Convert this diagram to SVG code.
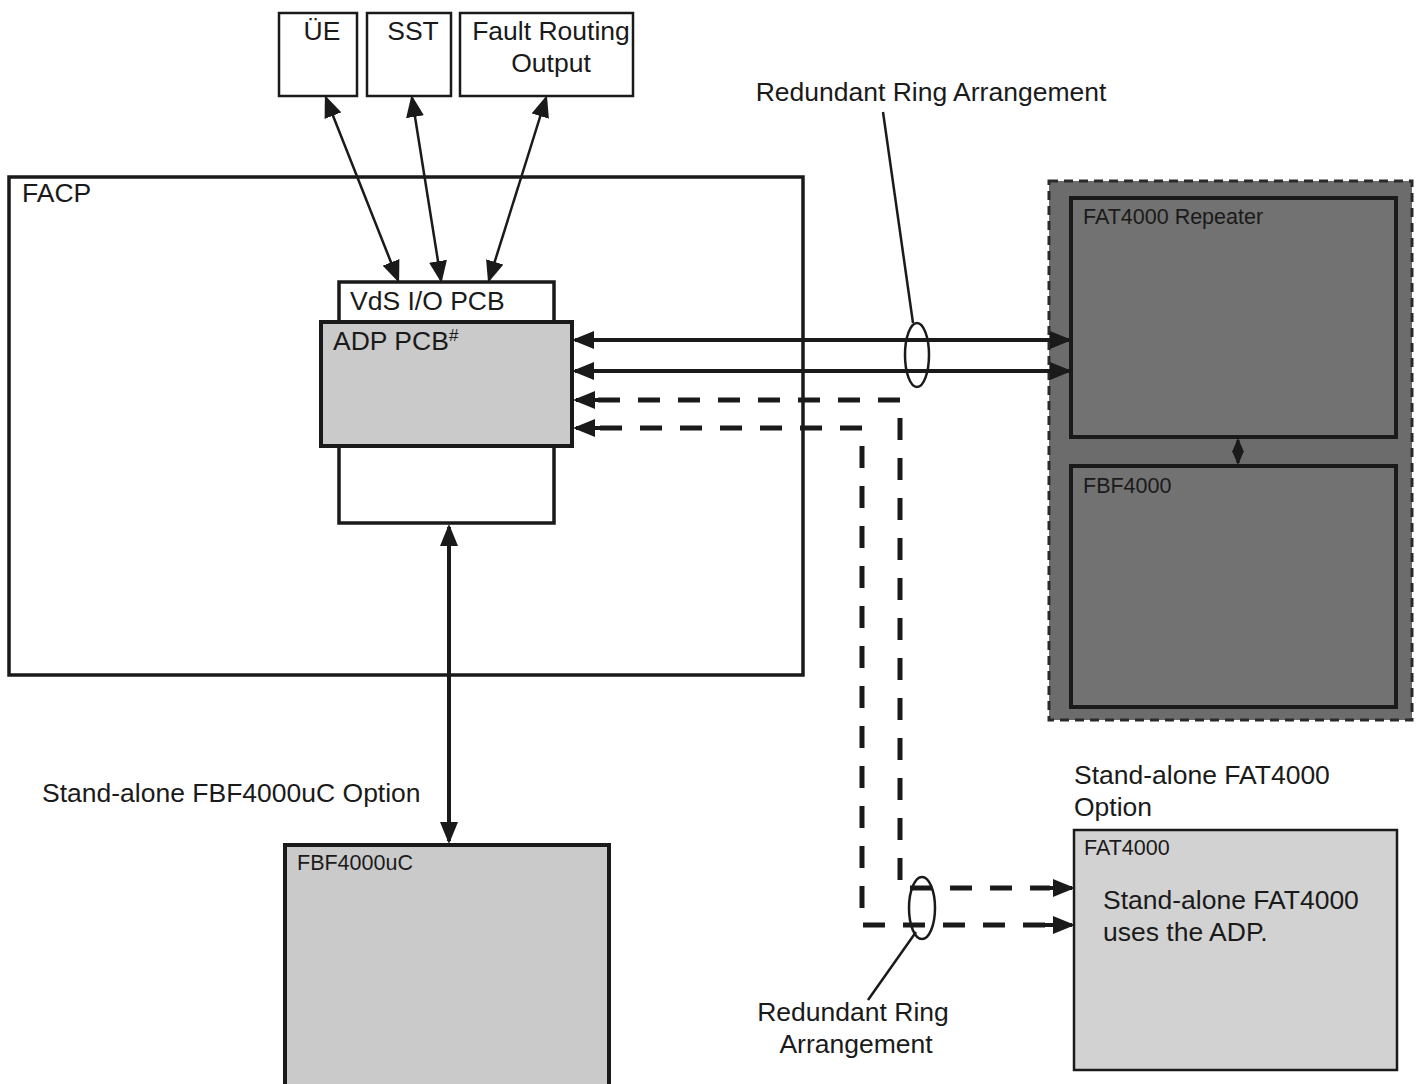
<svg xmlns="http://www.w3.org/2000/svg" width="1418" height="1084" viewBox="0 0 1418 1084">
<style>
text{font-family:"Liberation Sans",Arial,sans-serif;fill:#1a1a1a}
.t24{font-size:26.5px}
.t20{font-size:21.5px}
.box{fill:#fff;stroke:#1a1a1a;stroke-width:2.5}
.thick{stroke:#1a1a1a;stroke-width:4}
.light{fill:#cacaca}
.dark{fill:#727272;stroke:#1a1a1a;stroke-width:4}
.con{stroke:#1a1a1a;stroke-width:4;fill:none}
.thin{stroke:#1a1a1a;stroke-width:2.5;fill:none}
.dash{stroke:#1a1a1a;stroke-width:5;fill:none;stroke-dasharray:22 18}
</style>
<defs>
<marker id="ah" markerUnits="userSpaceOnUse" markerWidth="22" markerHeight="18" viewBox="0 0 22 18" refX="19" refY="9" orient="auto-start-reverse">
<path d="M0,0 L22,9 L0,18 z" fill="#1a1a1a"/>
</marker>
<marker id="ahs" markerUnits="userSpaceOnUse" markerWidth="14" markerHeight="12" viewBox="0 0 14 12" refX="12" refY="6" orient="auto-start-reverse">
<path d="M0,0 L14,6 L0,12 z" fill="#1a1a1a"/>
</marker>
</defs>
<rect width="1418" height="1084" fill="#fff"/>

<g id="ue"><rect class="box" x="279" y="13" width="78" height="83"/><text class="t24" x="322" y="40" text-anchor="middle">ÜE</text></g>
<g id="sst"><rect class="box" x="367" y="13" width="84" height="83"/><text class="t24" x="413" y="40" text-anchor="middle">SST</text></g>
<g id="fault"><rect class="box" x="460" y="13" width="173" height="83"/><text class="t24" x="551" y="40" text-anchor="middle">Fault Routing</text><text class="t24" x="551" y="72" text-anchor="middle">Output</text></g>

<g id="facp"><rect x="9" y="177" width="794" height="498" fill="#fff" stroke="#1a1a1a" stroke-width="3.5"/><text class="t24" x="22" y="202">FACP</text></g>
<g id="vds"><rect x="339" y="282" width="215" height="241" fill="#fff" stroke="#1a1a1a" stroke-width="3.5"/><text class="t24" x="350" y="310">VdS I/O PCB</text></g>
<g id="adp"><rect class="light thick" x="321" y="322" width="251" height="124"/><text class="t24" x="333" y="350">ADP PCB<tspan font-size="17" dy="-9">#</tspan></text></g>

<g id="ring-group"><rect x="1049" y="181" width="363" height="539" fill="#6c6c6c" stroke="#2a2a2a" stroke-width="3" stroke-dasharray="9 6"/></g>
<g id="fat-repeater"><rect class="dark" x="1071" y="198" width="325" height="239"/><text class="t20" x="1083" y="224" fill="#1e1e1e">FAT4000 Repeater</text></g>
<g id="fbf4000"><rect class="dark" x="1071" y="466" width="325" height="241"/><text class="t20" x="1083" y="493" fill="#1e1e1e">FBF4000</text></g>

<g id="fbf4000uc"><rect class="light thick" x="285" y="845" width="324" height="245"/><text class="t20" x="297" y="870">FBF4000uC</text></g>
<g id="fat4000"><rect x="1074" y="830" width="323" height="240" fill="#d2d2d2" stroke="#1a1a1a" stroke-width="2.5"/><text class="t20" x="1084" y="855">FAT4000</text><text class="t24" x="1103" y="909">Stand-alone FAT4000</text><text class="t24" x="1103" y="941">uses the ADP.</text></g>

<g id="labels">
<text class="t24" x="931" y="101" text-anchor="middle">Redundant Ring Arrangement</text>
<text class="t24" x="42" y="802">Stand-alone FBF4000uC Option</text>
<text class="t24" x="1074" y="784">Stand-alone FAT4000</text>
<text class="t24" x="1074" y="816">Option</text>
<text class="t24" x="853" y="1021" text-anchor="middle">Redundant Ring</text>
<text class="t24" x="856" y="1053" text-anchor="middle">Arrangement</text>
</g>

<g id="connectors">
<line class="thin" x1="326" y1="98" x2="398" y2="280" marker-start="url(#ah)" marker-end="url(#ah)"/>
<line class="thin" x1="412" y1="98" x2="441" y2="280" marker-start="url(#ah)" marker-end="url(#ah)"/>
<line class="thin" x1="546" y1="98" x2="489" y2="280" marker-start="url(#ah)" marker-end="url(#ah)"/>
<line class="con" x1="575" y1="340" x2="1069" y2="340" marker-start="url(#ah)" marker-end="url(#ah)"/>
<line class="con" x1="575" y1="371" x2="1069" y2="371" marker-start="url(#ah)" marker-end="url(#ah)"/>
<line class="dash" x1="900" y1="400" x2="597" y2="400"/>
<line class="con" x1="600" y1="400" x2="576" y2="400" marker-end="url(#ah)"/>
<line class="dash" x1="862" y1="428" x2="597" y2="428"/>
<line class="con" x1="600" y1="428" x2="576" y2="428" marker-end="url(#ah)"/>
<polyline class="dash" points="900,418 900,888 1050,888"/>
<polyline class="dash" points="862,446 862,925 1050,925"/>
<line class="con" x1="1040" y1="888" x2="1072" y2="888" marker-end="url(#ah)"/>
<line class="con" x1="1040" y1="925" x2="1072" y2="925" marker-end="url(#ah)"/>
<line class="con" x1="449" y1="527" x2="449" y2="841" marker-start="url(#ah)" marker-end="url(#ah)"/>
<line stroke="#1a1a1a" stroke-width="3" x1="1238" y1="440" x2="1238" y2="463" marker-start="url(#ahs)" marker-end="url(#ahs)"/>
<ellipse cx="917" cy="355" rx="12" ry="32" fill="none" stroke="#1a1a1a" stroke-width="2.5"/>
<line class="thin" x1="883" y1="112" x2="913" y2="323"/>
<ellipse cx="922" cy="908" rx="13" ry="31" fill="none" stroke="#1a1a1a" stroke-width="2.5"/>
<line class="thin" x1="916" y1="932" x2="868" y2="1000"/>
</g>
</svg>
